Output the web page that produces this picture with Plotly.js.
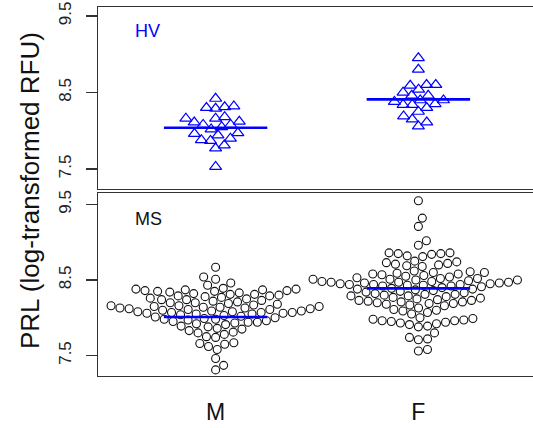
<!DOCTYPE html>
<html><head><meta charset="utf-8">
<script src="https://cdn.plot.ly/plotly-3.0.1.min.js"></script>
<style>html,body{margin:0;padding:0;overflow:hidden;background:#fff}#chart{width:540px;height:428px}</style>
</head><body><div id="chart"></div>
<script>
// ---- data ----
const groups = ['M', 'F'];
const tickVals = [7.5, 8.5, 9.5];
const tickText = ['7.5', '8.5', '9.5'];

const hvM = [7.53, 7.77, 7.81, 7.87, 7.88, 7.90, 7.94, 7.96, 7.97, 8.02, 8.05, 8.08, 8.08, 8.11, 8.12, 8.16, 8.16, 8.18, 8.29, 8.30, 8.31, 8.32, 8.42];
const hvF = [8.06, 8.11, 8.15, 8.19, 8.25, 8.30, 8.34, 8.34, 8.35, 8.38, 8.40, 8.40, 8.46, 8.46, 8.50, 8.54, 8.59, 8.60, 8.60, 8.80, 8.95];

const msM = [7.31, 7.37, 7.46, 7.58, 7.62, 7.65, 7.66, 7.67, 7.74, 7.75, 7.78, 7.80, 7.81, 7.83, 7.85, 7.86,
  7.88, 7.89, 7.91, 7.92, 7.93, 7.94, 7.94, 7.95, 7.96, 7.97, 7.98, 7.98, 7.99, 8.00, 8.01, 8.02,
  8.03, 8.04, 8.05, 8.05, 8.06, 8.06, 8.07, 8.07, 8.07, 8.08, 8.08, 8.09, 8.09,
  8.10, 8.11, 8.11, 8.12, 8.12, 8.13, 8.13, 8.14, 8.14, 8.15, 8.15, 8.16, 8.16, 8.17, 8.18, 8.19,
  8.20, 8.20, 8.21, 8.22, 8.23, 8.24, 8.24, 8.25, 8.26, 8.27, 8.28,
  8.29, 8.29, 8.30, 8.31, 8.31, 8.32, 8.33, 8.34, 8.35, 8.35, 8.36, 8.36, 8.37, 8.37, 8.38, 8.38, 8.39,
  8.43, 8.46, 8.51, 8.54, 8.67];

const msF = [7.56, 7.58, 7.71, 7.72, 7.74, 7.80,
  7.88, 7.89, 7.91, 7.92, 7.93, 7.94, 7.95, 7.96, 7.96, 7.97, 7.98, 7.99, 8.00,
  8.05, 8.07, 8.09, 8.10, 8.11, 8.13,
  8.16, 8.17, 8.18, 8.19, 8.19, 8.20, 8.21, 8.21, 8.22, 8.23, 8.23, 8.24, 8.25,
  8.26, 8.27, 8.28, 8.29, 8.29, 8.30, 8.31, 8.31, 8.32, 8.33,
  8.34, 8.35, 8.36, 8.37, 8.38, 8.38, 8.39,
  8.40, 8.41, 8.42, 8.42, 8.43, 8.43, 8.44, 8.44, 8.44, 8.45, 8.45, 8.46, 8.46, 8.47, 8.47, 8.47,
  8.48, 8.48, 8.49, 8.50, 8.50, 8.51, 8.51, 8.52, 8.52,
  8.53, 8.54, 8.55, 8.56, 8.57, 8.58, 8.58, 8.59, 8.60, 8.60, 8.61, 8.62,
  8.68, 8.69, 8.70, 8.71, 8.72, 8.73, 8.74, 8.75,
  8.81, 8.82, 8.84, 8.85, 8.85, 8.86, 8.86,
  8.96, 9.02, 9.21, 9.32, 9.55];

const hvCenter = [8.04, 8.41];   // blue line levels, HV
const msCenter = [8.01, 8.39];   // blue line levels, MS

// ---- layout geometry ----
const W = 540, H = 428, ML = 98, MR = 4, MT = 7, MB = 52;
const plotW = W - ML - MR, plotH = H - MT - MB;
const xRange = [0.42, 2.58];
const topDomain = [0.506, 1], botDomain = [0, 0.4946];
const topRange = [7.235, 9.617], botRange = [7.229, 9.646];
const pxPerX = plotW / (xRange[1] - xRange[0]);
const pxTop = plotH * (topDomain[1] - topDomain[0]) / (topRange[1] - topRange[0]);
const pxBot = plotH * (botDomain[1] - botDomain[0]) / (botRange[1] - botRange[0]);
const spacing = 9.2; // px between point centres

// beeswarm "swarm" placement, ascending priority
function swarm(vals, pxPerY) {
  const n = vals.length;
  const u = vals.map(v => v * pxPerY / spacing);
  const order = vals.map((v, i) => i).sort((a, b) => (u[a] - u[b]) || (a - b));
  const g = new Array(n).fill(0);
  const done = [];
  order.forEach(i => {
    const xi = u[i];
    const pot = done.filter(j => Math.abs(xi - u[j]) < 1);
    if (pot.length === 0) { g[i] = 0; done.push(i); return; }
    const offs = pot.map(j => Math.sqrt(1 - (xi - u[j]) ** 2));
    const cands = [0].concat(pot.map((j, q) => g[j] + offs[q]), pot.map((j, q) => g[j] - offs[q]));
    let best = 0, bestAbs = Infinity;
    cands.forEach(c => {
      const bad = pot.some(j => (xi - u[j]) ** 2 + (c - g[j]) ** 2 < 0.999);
      if (!bad && Math.abs(c) < bestAbs - 1e-9) { bestAbs = Math.abs(c); best = c; }
    });
    g[i] = best; done.push(i);
  });
  return g.map(v => v * spacing / pxPerX);
}

function pts(vals, center, pxPerY, xa, ya, style) {
  const off = swarm(vals, pxPerY);
  return Object.assign({
    type: 'scatter', mode: 'markers', x: off.map(o => center + o), y: vals,
    xaxis: xa, yaxis: ya, hoverinfo: 'skip', cliponaxis: true
  }, style);
}
const triStyle = { marker: { symbol: 'triangle-up-open', size: 10.5, color: '#0000ff', line: { width: 1.2, color: '#0000ff' } } };
const circStyle = { marker: { symbol: 'circle-open', size: 8, color: '#111111', line: { width: 1.1, color: '#111111' } } };

function centerLine(c, level, xa, ya) {
  return { type: 'scatter', mode: 'lines', x: [c - 0.255, c + 0.255], y: [level, level],
    xaxis: xa, yaxis: ya, line: { color: '#0000ff', width: 2.6 }, hoverinfo: 'skip' };
}

const traces = [
  pts(hvM, 1, pxTop, 'x', 'y', triStyle),
  pts(hvF, 2, pxTop, 'x', 'y', triStyle),
  pts(msM, 1, pxBot, 'x2', 'y2', circStyle),
  pts(msF, 2, pxBot, 'x2', 'y2', circStyle),
  centerLine(1, hvCenter[0], 'x', 'y'),
  centerLine(2, hvCenter[1], 'x', 'y'),
  centerLine(1, msCenter[0], 'x2', 'y2'),
  centerLine(2, msCenter[1], 'x2', 'y2')
];

const lineCol = '#333333';
const font = 'Liberation Sans, Arial, sans-serif';
function yax(domain, range, anchor) {
  return { domain, range, anchor, showline: true, mirror: true, linecolor: lineCol, linewidth: 1.2,
    ticks: 'outside', ticklen: 11, tickwidth: 1.2, tickcolor: lineCol, tickvals: tickVals, ticktext: tickText,
    ticklabelstandoff: 8,
    tickangle: -90, tickfont: { family: font, size: 17, color: '#222' }, showgrid: false, zeroline: false, fixedrange: true };
}
const layout = {
  width: W, height: H, margin: { l: ML, r: MR, t: MT, b: MB }, showlegend: false,
  paper_bgcolor: '#fff', plot_bgcolor: '#fff', font: { family: font },
  xaxis: { domain: [0, 1], range: xRange, anchor: 'y', showline: true, mirror: true, linecolor: lineCol, linewidth: 1.2,
    ticks: '', showticklabels: false, showgrid: false, zeroline: false },
  yaxis: yax(topDomain, topRange, 'x'),
  xaxis2: { domain: [0, 1], range: xRange, anchor: 'y2', showline: true, mirror: true, linecolor: lineCol, linewidth: 1.2,
    ticks: '', tickvals: [1, 2], ticktext: groups, ticklabelstandoff: 15,
    tickfont: { family: font, size: 23, color: '#111' }, showgrid: false, zeroline: false },
  yaxis2: yax(botDomain, botRange, 'x2'),
  annotations: [
    { text: 'HV', xref: 'paper', yref: 'paper', x: (133 - ML) / plotW, y: (H - MB - 31.5) / plotH, xanchor: 'left', yanchor: 'middle',
      showarrow: false, font: { family: font, size: 18, color: '#0000ff' } },
    { text: 'MS', xref: 'paper', yref: 'paper', x: (133 - ML) / plotW, y: (H - MB - 218.5) / plotH, xanchor: 'left', yanchor: 'middle',
      showarrow: false, font: { family: font, size: 18, color: '#111' } },
    { text: 'PRL (log-transformed RFU)', xref: 'paper', yref: 'paper', x: (30 - ML) / plotW, y: (H - MB - 191) / plotH,
      xanchor: 'center', yanchor: 'middle', textangle: -90, showarrow: false, font: { family: font, size: 26, color: '#111' } }
  ]
};
Plotly.newPlot('chart', traces, layout, { staticPlot: true, displayModeBar: false });
</script></body></html>
